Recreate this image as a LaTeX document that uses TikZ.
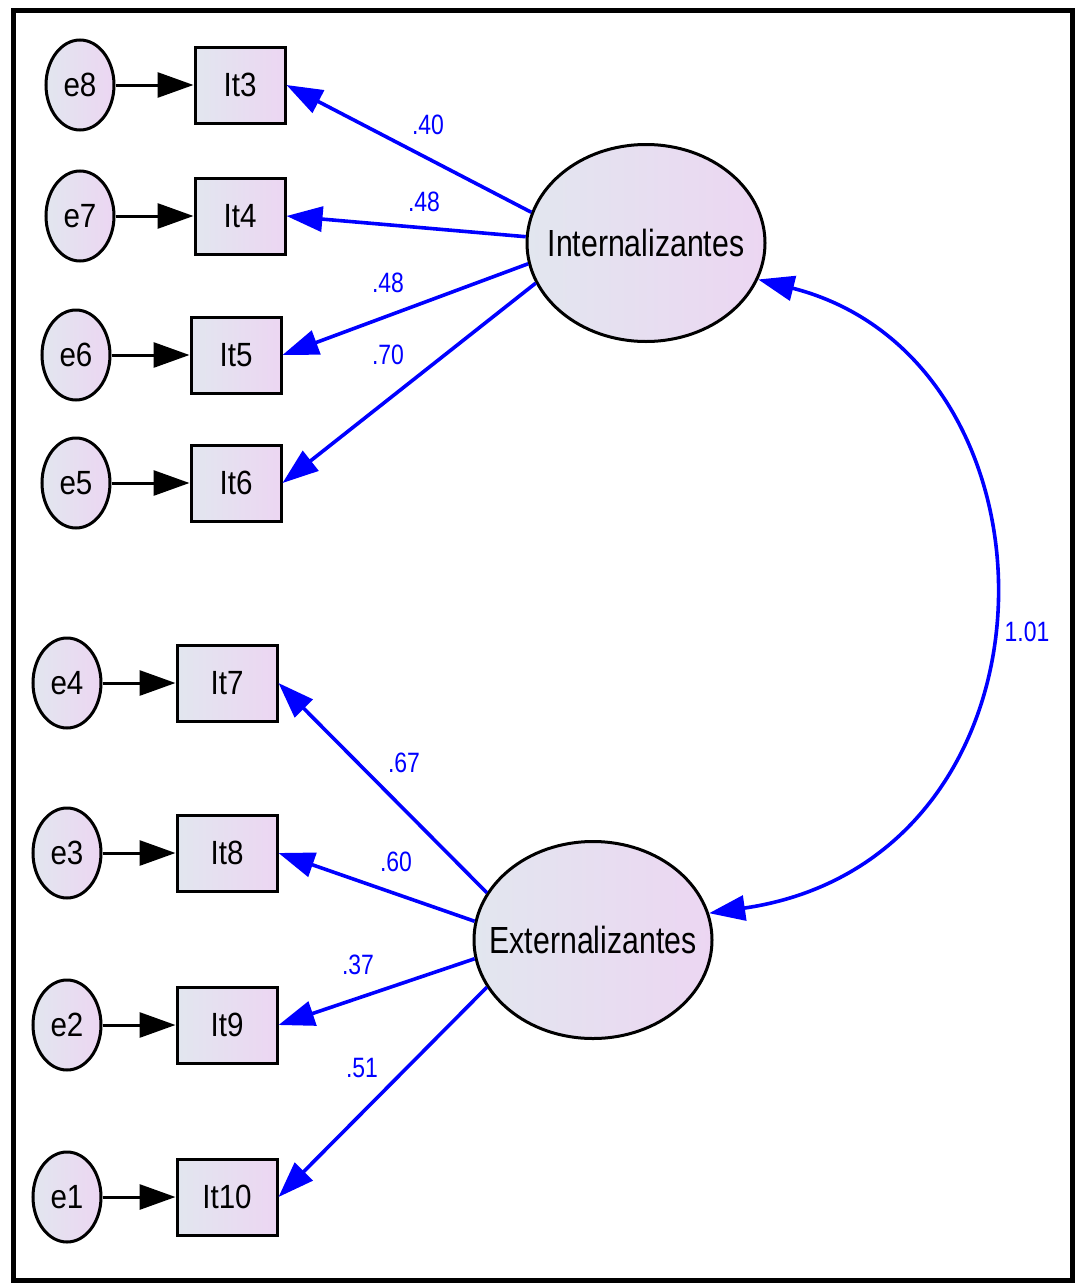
\documentclass[tikz,border=0pt]{standalone}
\usepackage{fontspec}
\setmainfont{Liberation Sans}
\newfontfamily\latfont{Liberation Sans}[FakeStretch=0.8]
\newfontfamily\obsfont{Liberation Sans}[FakeStretch=0.88]
\newfontfamily\coeffont{Liberation Sans}[FakeStretch=0.82]
\usetikzlibrary{arrows.meta,shapes.geometric}
\definecolor{lavL}{RGB}{226,230,239}
\definecolor{lavR}{RGB}{236,214,242}

\begin{document}
\begin{tikzpicture}[x=0.5pt, y=-0.5pt, node distance=80pt]
        \tikzstyle{latent}=[ellipse,draw=black,line width=1.5pt,left color=lavL,right color=lavR,inner xsep=-10pt,inner ysep=0pt,minimum width=119pt,minimum height=98.5pt,font=\latfont\fontsize{18.9}{20}\selectfont]
        \tikzstyle{item}=[rectangle,draw=black,line width=1.5pt,left color=lavL,right color=lavR,inner sep=0pt,minimum width=45pt,minimum height=38pt,font=\obsfont\fontsize{16.8}{18}\selectfont]
        \tikzstyle{err}=[ellipse,draw=black,line width=1.5pt,left color=lavL,right color=lavR,inner sep=0pt,minimum width=34pt,minimum height=45pt,font=\obsfont\fontsize{16.8}{18}\selectfont]
        \tikzstyle{coef}=[text=blue,inner sep=0pt,font=\coeffont\fontsize{14}{16}\selectfont]
        \tikzstyle{load}=[draw=blue,line width=1.8pt,-{Triangle[length=18pt,width=12.5pt]}]
        \tikzstyle{res}=[draw=black,line width=1.5pt,-{Triangle[length=18pt,width=12.5pt]}]
        \tikzstyle{cov}=[draw=blue,line width=1.8pt,{Triangle[length=18pt,width=12.5pt]}-{Triangle[length=18pt,width=12.5pt]}]

        \useasboundingbox (0,0) rectangle (1075,1285);
        \draw[line width=2.5pt] (13.5,10.5) rectangle (1072,1280);

        \node[latent] (int) at (646,243) {Internalizantes};
        \node[latent] (ext) at (593,940) {Externalizantes};

        \node[item] (it3) at (240,85) {It3};
        \node[item, below of=it3, node distance=65.5pt] (it4) {It4};
        \node[item, below of=it4, node distance=69.5pt, xshift=-2pt] (it5) {It5};
        \node[item, below of=it5, node distance=64pt] (it6) {It6};

        \node[item, minimum width=50pt] (it7) at (227,683) {It7};
        \node[item, minimum width=50pt, below of=it7, node distance=85pt] (it8) {It8};
        \node[item, minimum width=50pt, below of=it8, node distance=86pt] (it9) {It9};
        \node[item, minimum width=50pt, below of=it9, node distance=86pt] (it10) {It10};

        \node[err, left of=it3] (e8) {e8};
        \node[err, left of=it4] (e7) {e7};
        \node[err, left of=it5] (e6) {e6};
        \node[err, left of=it6] (e5) {e5};
        \node[err, left of=it7] (e4) {e4};
        \node[err, left of=it8] (e3) {e3};
        \node[err, left of=it9] (e2) {e2};
        \node[err, left of=it10] (e1) {e1};

        \draw[res] (e8) -- (it3);
        \draw[res] (e7) -- (it4);
        \draw[res] (e6) -- (it5);
        \draw[res] (e5) -- (it6);
        \draw[res] (e4) -- (it7);
        \draw[res] (e3) -- (it8);
        \draw[res] (e2) -- (it9);
        \draw[res] (e1) -- (it10);

        \draw[load] (int.165) -- (it3.east);
        \draw[load] (int.177) -- (it4.east);
        \draw[load] (int.190) -- (it5.east);
        \draw[load] (int.200) -- (it6.east);
        \draw[load] (ext.156) -- (it7.east);
        \draw[load] (ext.171) -- (it8.east);
        \draw[load] (ext.189) -- (it9.east);
        \draw[load] (ext.204) -- (it10.east);

        \draw[cov] (int.-18) .. controls (1075,360) and (1075,860) .. (ext.13);

        \node[coef] (c3) at (428,125) {.40};
        \node[coef] (c4) at (424,202) {.48};
        \node[coef] (c5) at (388,283) {.48};
        \node[coef] (c6) at (388,355) {.70};
        \node[coef] (c7) at (404,763) {.67};
        \node[coef] (c8) at (396,862) {.60};
        \node[coef] (c9) at (358,965) {.37};
        \node[coef] (c10) at (362,1068) {.51};
        \node[coef] (cov) at (1027,632) {1.01};
\end{tikzpicture}
\end{document}
